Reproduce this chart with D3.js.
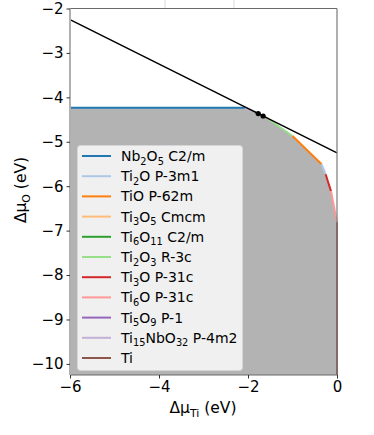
<!DOCTYPE html>
<html><head><meta charset="utf-8">
<script src="https://cdn.jsdelivr.net/npm/d3@7"></script>
<style>body{margin:0;background:#fff}svg{display:block}</style>
</head><body>
<script>
// ---- data ----
const phaseLabels = ["Nb_{2}O_{5} C2/m","Ti_{2}O P-3m1","TiO P-62m","Ti_{3}O_{5} Cmcm","Ti_{6}O_{11} C2/m","Ti_{2}O_{3} R-3c","Ti_{3}O P-31c","Ti_{6}O P-31c","Ti_{5}O_{9} P-1","Ti_{15}NbO_{32} P-4m2","Ti"];
const phaseColors = ["#1f77b4","#aec7e8","#ff7f0e","#ffbb78","#2ca02c","#98df8a","#d62728","#ff9896","#9467bd","#c5b0d5","#8c564b"];
// boundary segments [x1,x2] and [y1,y2] (eV), same order as labels
const segX = [[-6,-2.07],[-0.35,-0.255],[-1.0,-0.35],[-1.66,-1.58],[-1.85,-1.77],[-1.58,-1.0],[-0.255,-0.135],[-0.135,0],[-1.77,-1.66],[-2.07,-1.85],[0,0]];
const segY = [[-4.235,-4.235],[-5.50,-5.73],[-4.87,-5.50],[-4.42,-4.46],[-4.325,-4.365],[-4.46,-4.87],[-5.73,-6.11],[-6.11,-6.81],[-4.365,-4.42],[-4.235,-4.325],[-6.81,-10.25]];
// boundary order along the stable region
const boundaryOrder = [0,9,4,8,3,5,2,1,6,7,10];
const lineX = [-6, 0];           // TiO2 limit line
const lineY = [-2.25, -5.25];
const dotX = [-1.77, -1.66];
const dotY = [-4.365, -4.42];
const xTicks = [-6,-4,-2,0];
const yTicks = [-10,-9,-8,-7,-6,-5,-4,-3,-2];
const xDomain = [-6, 0];
const yDomain = [-10.25, -2];

// ---- layout ----
const W = 374, H = 435;
const svg = d3.select("body").append("svg").attr("width", W).attr("height", H)
  .style("font-family","'DejaVu Sans', sans-serif");
const L = 70, R = 337, T = 8.5, B = 375;
const x = d3.scaleLinear().domain(xDomain).range([L, R]);
const y = d3.scaleLinear().domain(yDomain).range([B, T]);

// faint artefacts above the frame
[165, 234].forEach(px => svg.append("line").attr("x1",px).attr("x2",px).attr("y1",0).attr("y2",T)
  .attr("stroke","#e6e6e6").attr("stroke-width",1.5));

// gray stable region
const poly = [];
boundaryOrder.forEach(i => { poly.push([segX[i][0],segY[i][0]]); poly.push([segX[i][1],segY[i][1]]); });
poly.push([xDomain[0], yDomain[0]]);
svg.append("path").attr("d", d3.line().x(d=>x(d[0])).y(d=>y(d[1]))(poly)+"Z")
  .attr("fill","#b3b3b3");

// colored boundary segments
phaseLabels.forEach((lab,i) => {
  svg.append("line").attr("x1",x(segX[i][0])).attr("x2",x(segX[i][1]))
    .attr("y1",y(segY[i][0])).attr("y2",y(segY[i][1]))
    .attr("stroke",phaseColors[i]).attr("stroke-width",2);
});

// black line
svg.append("line").attr("x1",x(lineX[0])).attr("x2",x(lineX[1]))
  .attr("y1",y(lineY[0])).attr("y2",y(lineY[1])).attr("stroke","#000").attr("stroke-width",1.5);
svg.selectAll("circle.dot").data(dotX).enter().append("circle")
  .attr("cx",(d)=>x(d)).attr("cy",(d,i)=>y(dotY[i])).attr("r",2.6).attr("fill","#000");

// frame
svg.append("line").attr("x1",L).attr("x2",R).attr("y1",T).attr("y2",T).attr("stroke","#6a6a6a").attr("stroke-width",1.2);
svg.append("line").attr("x1",R).attr("x2",R).attr("y1",T).attr("y2",B).attr("stroke","#7a7a7a").attr("stroke-width",1.2);
svg.append("line").attr("x1",L).attr("x2",R).attr("y1",B).attr("y2",B).attr("stroke","#6a6a6a").attr("stroke-width",1.2);
svg.append("line").attr("x1",L).attr("x2",L).attr("y1",T).attr("y2",B).attr("stroke","#b0b0b0").attr("stroke-width",2);

// axes
const fmt = d => d < 0 ? "\u2212" + Math.abs(d) : String(d);
const xa = svg.append("g").attr("transform",`translate(0,${B})`)
  .call(d3.axisBottom(x).tickValues(xTicks).tickFormat(fmt).tickSize(3.5).tickPadding(3));
const ya = svg.append("g").attr("transform",`translate(${L},0)`)
  .call(d3.axisLeft(y).tickValues(yTicks).tickFormat(fmt).tickSize(3.5).tickPadding(3));
[xa,ya].forEach(g => {
  g.select(".domain").remove();
  g.selectAll("text").attr("font-size",15).attr("fill","#000").style("font-family","'DejaVu Sans', sans-serif");
  g.selectAll("line").attr("stroke","#333");
});

// rich text helper: "_{..}" subscripts
function rich(sel, str, size) {
  const parts = str.split(/(_\{[^}]*\})/).filter(s=>s.length);
  let sub = false;
  parts.forEach(p => {
    if (p.startsWith("_{")) {
      sel.append("tspan").text(p.slice(2,-1)).attr("font-size",size*0.7).attr("dy",size*0.25);
      sub = true;
    } else {
      const t = sel.append("tspan").text(p).attr("font-size",size);
      if (sub) { t.attr("dy",-size*0.25); sub = false; }
    }
  });
}

// axis labels
const xl = svg.append("text").attr("x",203).attr("y",413).attr("text-anchor","middle");
rich(xl, "\u0394\u03bc_{Ti} (eV)", 15.5);
const yl = svg.append("text").attr("transform","translate(26,190) rotate(-90)").attr("text-anchor","middle");
rich(yl, "\u0394\u03bc_{O} (eV)", 15.5);

// legend
const lg = svg.append("g");
lg.append("rect").attr("x",77.5).attr("y",145.5).attr("width",165).attr("height",225).attr("rx",3)
  .attr("fill","#f0f0f0").attr("stroke","#d6d6d6").attr("stroke-width",1);
phaseLabels.forEach((lab,i) => {
  const yy = 156 + i*20.2;
  lg.append("line").attr("x1",82).attr("x2",111).attr("y1",yy).attr("y2",yy)
    .attr("stroke",phaseColors[i]).attr("stroke-width",2);
  const t = lg.append("text").attr("x",121).attr("y",yy+5);
  rich(t, lab, 14);
});
</script>
</body></html>
